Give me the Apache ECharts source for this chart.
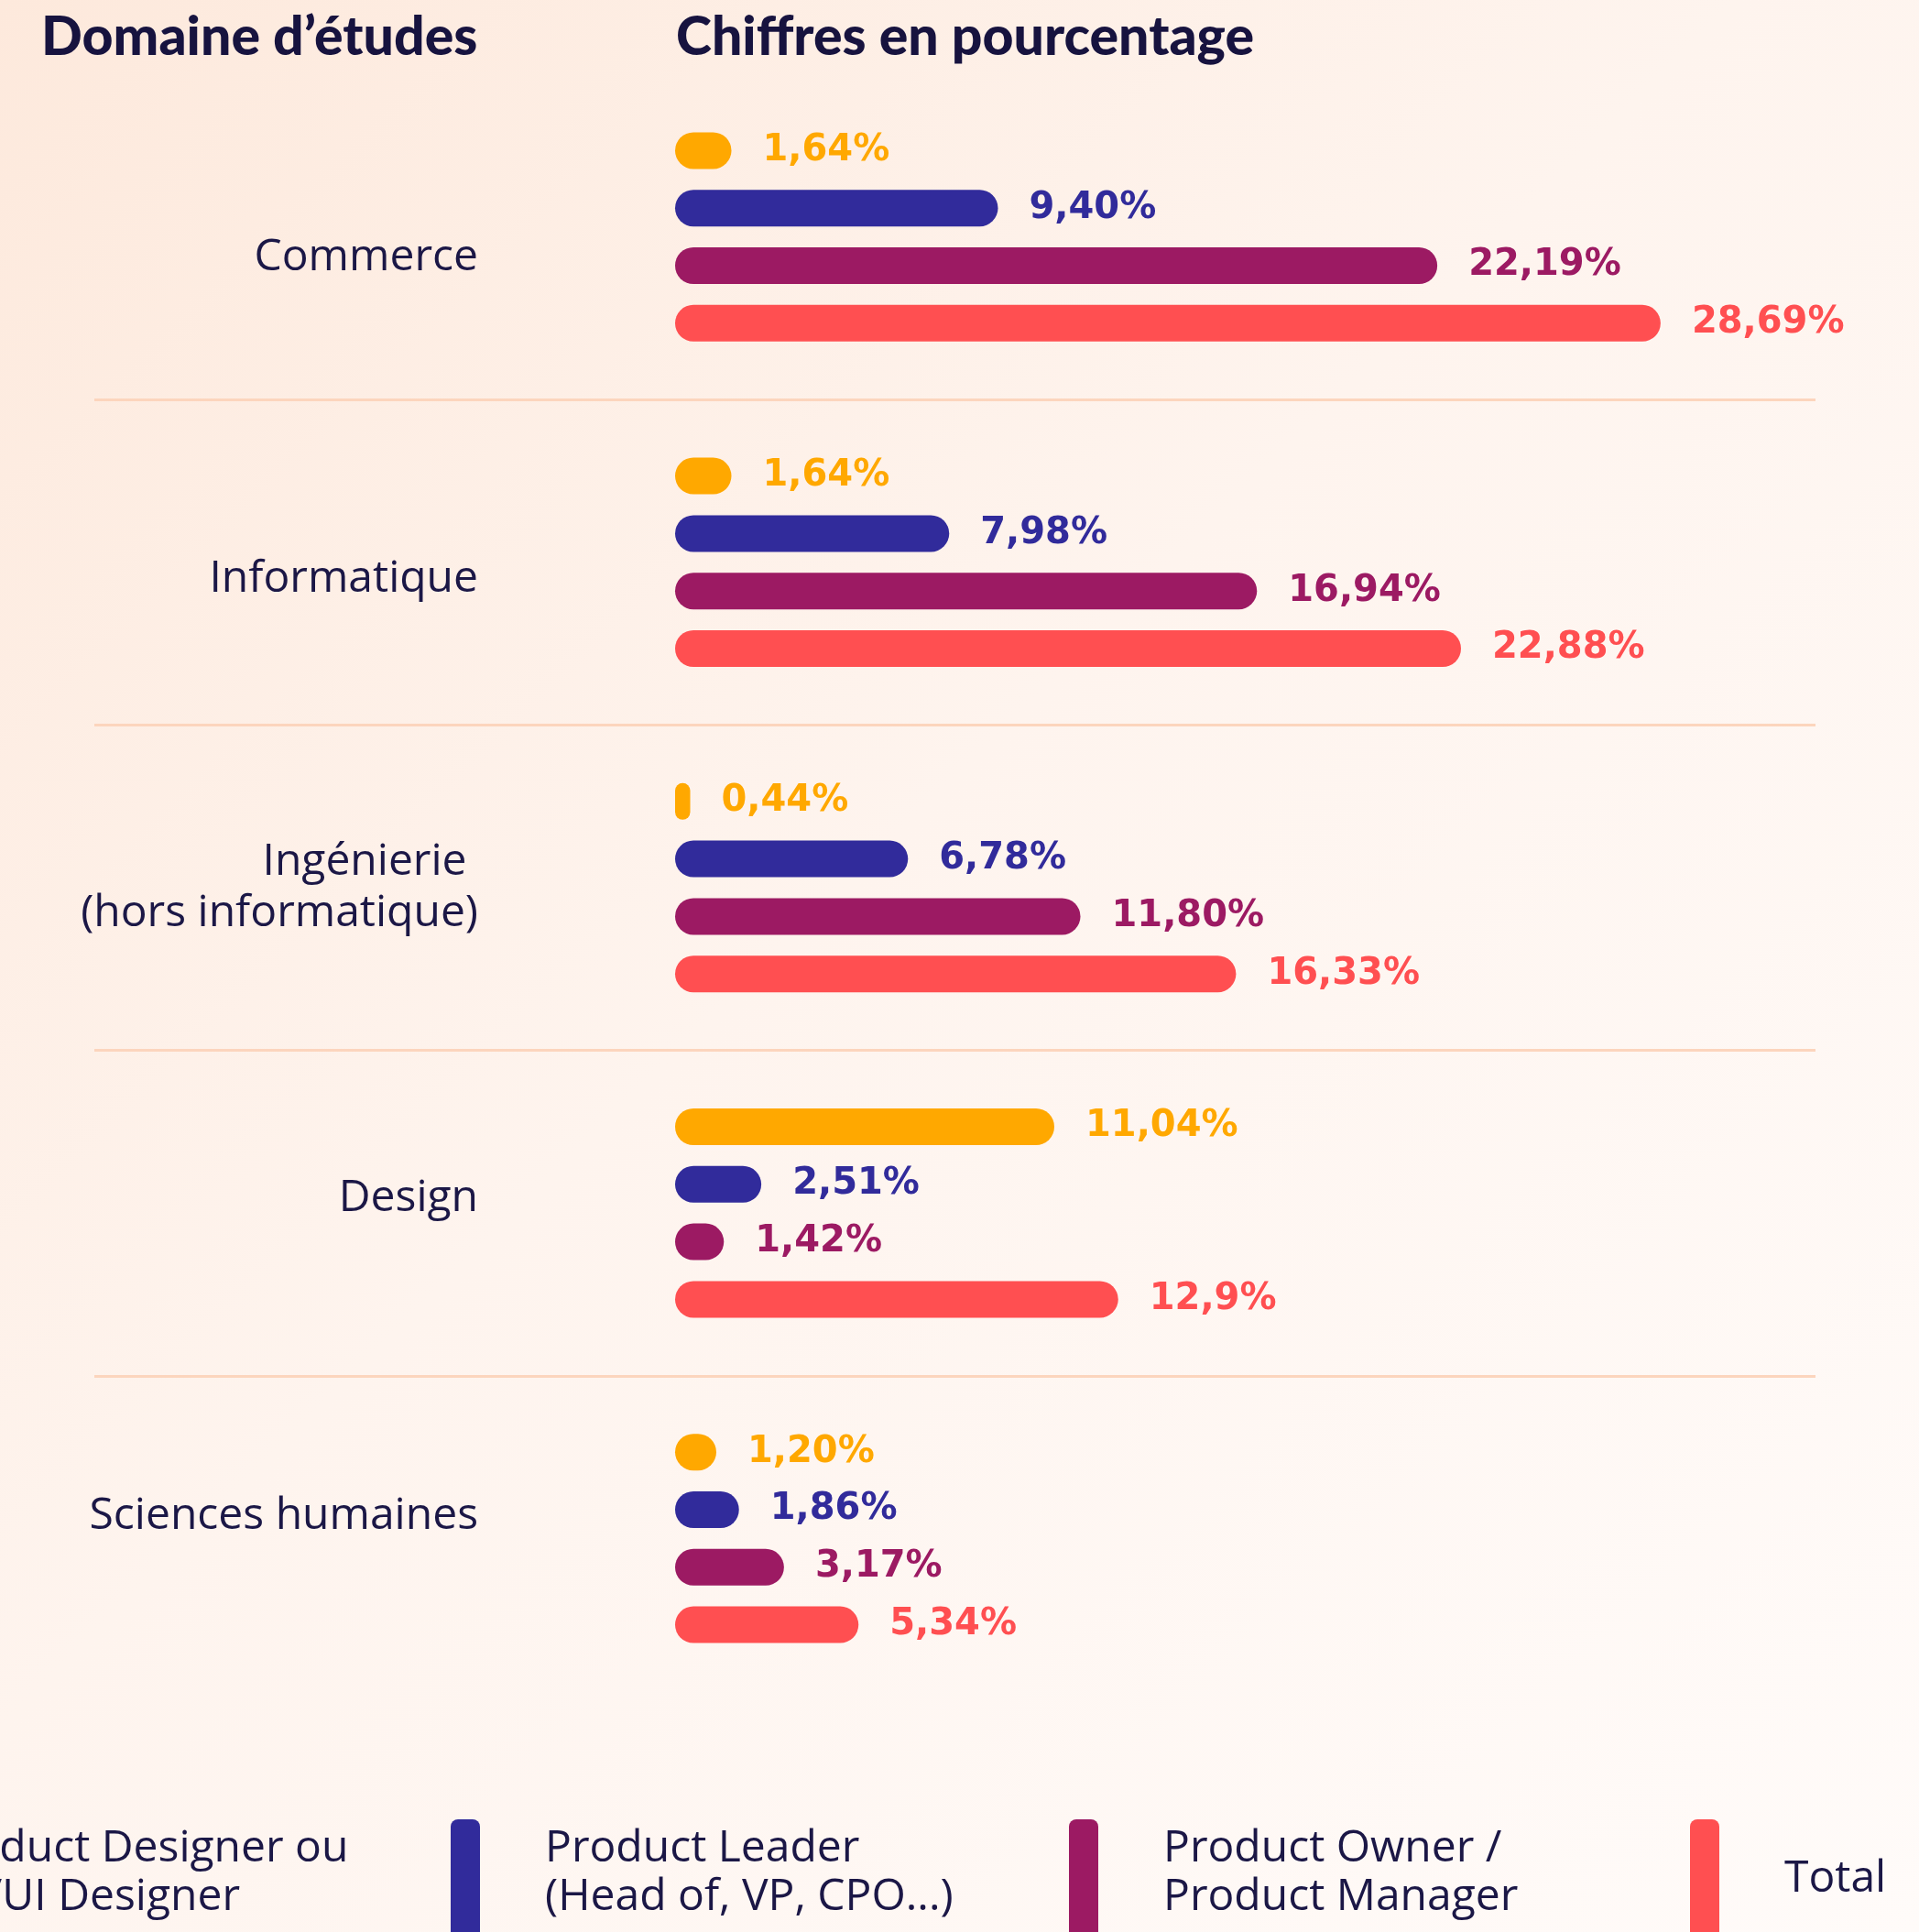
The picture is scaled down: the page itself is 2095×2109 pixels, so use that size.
<!DOCTYPE html>
<html>
<head>
<meta charset="utf-8">
<script src="https://cdn.jsdelivr.net/npm/echarts@6/dist/echarts.min.js"></script>
<style>
  html, body { margin: 0; padding: 0; }
  #chart { width: 2095px; height: 2109px; }
</style>
</head>
<body>
<div id="chart"></div>
<script>
var categories = ['Commerce', 'Informatique', 'Ingénierie \n(hors informatique)', 'Design', 'Sciences humaines'];

// valeurs telles qu'affichées (virgule française)
var designerText = ['1,64', '1,64', '0,44', '11,04', '1,20'];
var leaderText = ['9,40', '7,98', '6,78', '2,51', '1,86'];
var ownerText = ['22,19', '16,94', '11,80', '1,42', '3,17'];
var totalText = ['28,69', '22,88', '16,33', '12,9', '5,34'];

var seriesNames = [
  'Product Designer ou UX/UI Designer',
  'Product Leader (Head of, VP, CPO...)',
  'Product Owner / Product Manager',
  'Total'
];
var legendText = [
  'Product Designer ou\nUX/UI Designer',
  'Product Leader\n(Head of, VP, CPO...)',
  'Product Owner /\nProduct Manager',
  'Total'
];
var colors = ['#ffa800', '#312b9b', '#9c1a63', '#ff4f51'];

function toNum(arr) {
  return arr.map(function (s) { return parseFloat(s.replace(',', '.')); });
}

var texts = [designerText, leaderText, ownerText, totalText];
var navy = '#1b1746';

// petits décalages verticaux des libellés de catégorie (padding haut > 0, bas < 0)
var labelShift = [46, 38, 0, -32, -48];

var chart = echarts.init(document.getElementById('chart'));

var series = texts.map(function (t, i) {
  return {
    name: seriesNames[i],
    type: 'bar',
    xAxisIndex: 1,
    yAxisIndex: 1,
    data: toNum(t),
    barWidth: 40,
    barGap: '57%',
    itemStyle: { color: colors[i], borderRadius: 20 },
    label: {
      show: true,
      position: 'right',
      distance: 34,
      color: colors[i],
      fontFamily: 'DejaVu Sans',
      fontWeight: 'bold',
      fontSize: 40,
      formatter: function (p) { return t[p.dataIndex] + '%'; }
    }
  };
});

// légende : un composant pour le repère (barre verticale), un autre pour le texte
var legendLeft = [-181, 492, 1167, 1845];
var legends = [];
seriesNames.forEach(function (n, i) {
  legends.push({
    data: [{ name: n, icon: 'roundRect' }],
    left: legendLeft[i],
    top: 1986,
    padding: 0,
    itemWidth: 32,
    itemHeight: 200,
    selectedMode: false,
    formatter: function () { return ''; }
  });
  legends.push({
    data: [{ name: n, icon: 'none' }],
    left: legendLeft[i] + 103 - 15,
    top: i === 3 ? 2025 : 1992,
    padding: 0,
    itemWidth: 10,
    itemHeight: 14,
    selectedMode: false,
    formatter: function () { return legendText[i]; },
    textStyle: {
      color: navy,
      fontFamily: 'Open Sans',
      fontSize: 48,
      lineHeight: 53
    }
  });
});

var rich = {};
labelShift.forEach(function (s, i) {
  rich['s' + i] = { padding: s > 0 ? [s, 0, 0, 0] : [0, 0, -s, 0] };
});

var option = {
  backgroundColor: {
    type: 'linear', x: 0, y: 0, x2: 1, y2: 1,
    colorStops: [
      { offset: 0, color: '#fde9dc' },
      { offset: 0.45, color: '#fef4ee' },
      { offset: 1, color: '#fffbf9' }
    ]
  },
  animation: false,
  title: [
    {
      text: 'Domaine d’études',
      left: 40, top: 6,
      textStyle: { color: '#17133f', fontFamily: 'Lato', fontWeight: 900, fontSize: 59 }
    },
    {
      text: 'Chiffres en pourcentage',
      left: 733, top: 6,
      textStyle: { color: '#17133f', fontFamily: 'Lato', fontWeight: 900, fontSize: 59 }
    }
  ],
  legend: legends,
  grid: [
    { left: 103, right: 113, top: 81, height: 1776 },
    { left: 737, right: 233, top: 81, height: 1776 }
  ],
  xAxis: [
    { gridIndex: 0, type: 'value', show: false },
    { gridIndex: 1, type: 'value', min: 0, max: 30, show: false }
  ],
  yAxis: [
    {
      gridIndex: 0,
      type: 'category',
      inverse: true,
      data: categories,
      axisLine: { show: false },
      axisTick: { show: false },
      axisLabel: { show: false },
      splitLine: {
        show: true,
        showMinLine: false,
        showMaxLine: false,
        lineStyle: { color: '#fcd5bd', width: 3 }
      }
    },
    {
      gridIndex: 1,
      type: 'category',
      inverse: true,
      data: categories,
      axisLine: { show: false },
      axisTick: { show: false },
      splitLine: { show: false },
      axisLabel: {
        margin: 215,
        color: navy,
        fontFamily: 'Open Sans',
        fontSize: 48,
        lineHeight: 56,
        align: 'right',
        formatter: function (v, idx) {
          if (labelShift[idx] === 0) return v;
          return v.split('\n').map(function (l) {
            return '{s' + idx + '|' + l + '}';
          }).join('\n');
        },
        rich: rich
      }
    }
  ],
  series: series
};

chart.setOption(option);
</script>
</body>
</html>
